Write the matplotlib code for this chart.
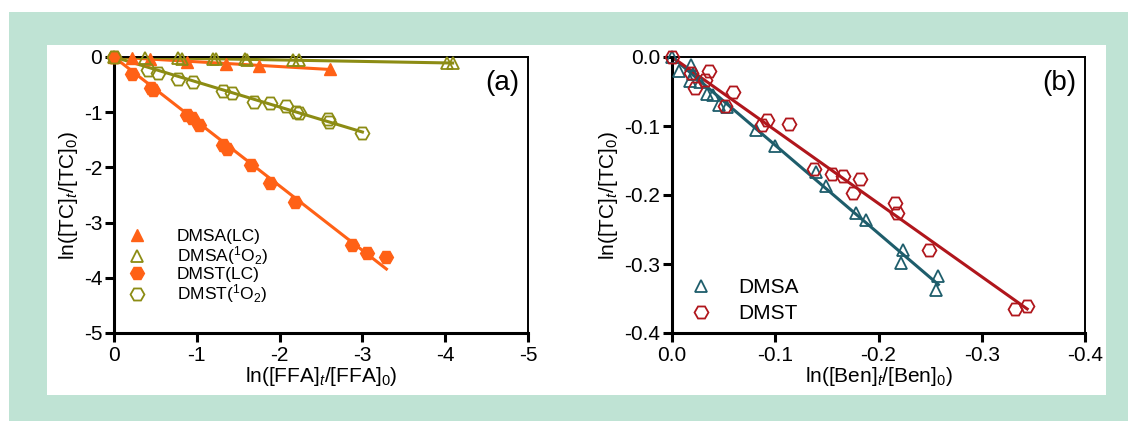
import numpy as np
import matplotlib.pyplot as plt
from matplotlib.patches import Rectangle

plt.rcParams['font.family'] = ['Liberation Sans', 'DejaVu Sans']
plt.rcParams['mathtext.fontset'] = 'custom'
plt.rcParams['mathtext.rm'] = 'Liberation Sans'
plt.rcParams['mathtext.it'] = 'Liberation Sans:italic'
plt.rcParams['axes.unicode_minus'] = False

# ---- panel (a): ln([FFA]t/[FFA]0) vs ln([TC]t/[TC]0)
dmsa_lc_x = [0, -0.22, -0.43, -0.88, -1.35, -1.75, -2.61]
dmsa_lc_y = [0, -0.02, -0.03, -0.09, -0.13, -0.16, -0.21]

dmsa_o2_x = [0, -0.37, -0.77, -0.82, -1.20, -1.23, -1.58, -1.61, -2.16, -2.24, -4.02, -4.09]
dmsa_o2_y = [0, -0.01, -0.02, -0.03, -0.03, -0.04, -0.04, -0.05, -0.06, -0.06, -0.10, -0.11]

dmst_lc_x = [0, -0.22, -0.45, -0.47, -0.88, -0.94, -1.03, -1.32, -1.36, -1.65, -1.88, -2.18, -2.88, -3.06, -3.29]
dmst_lc_y = [0, -0.31, -0.56, -0.60, -1.05, -1.10, -1.23, -1.60, -1.66, -1.96, -2.28, -2.62, -3.41, -3.55, -3.62]

dmst_o2_x = [0, -0.41, -0.53, -0.77, -0.96, -1.32, -1.42, -1.69, -1.89, -2.08, -2.20, -2.24, -2.58, -2.60, -3.00]
dmst_o2_y = [0, -0.24, -0.29, -0.39, -0.46, -0.62, -0.65, -0.81, -0.84, -0.88, -0.99, -1.02, -1.13, -1.17, -1.38]

a_ticks = [0, -1, -2, -3, -4, -5]
a_ticklabels = ['0', '-1', '-2', '-3', '-4', '-5']

# ---- panel (b): ln([Ben]t/[Ben]0) vs ln([TC]t/[TC]0)
b_dmsa_x = [0, -0.007, -0.018, -0.020, -0.017, -0.027, -0.034, -0.040, -0.046, -0.053, -0.081, -0.100,
            -0.139, -0.149, -0.178, -0.188, -0.224, -0.222, -0.258, -0.256]
b_dmsa_y = [0, -0.020, -0.012, -0.024, -0.035, -0.036, -0.053, -0.055, -0.070, -0.072, -0.106, -0.129,
            -0.167, -0.187, -0.226, -0.236, -0.279, -0.299, -0.318, -0.338]

b_dmst_x = [0, -0.018, -0.036, -0.022, -0.032, -0.059, -0.051, -0.087, -0.092, -0.113, -0.138, -0.155,
            -0.166, -0.182, -0.175, -0.216, -0.218, -0.249, -0.332, -0.344]
b_dmst_y = [0, -0.023, -0.020, -0.045, -0.033, -0.050, -0.071, -0.098, -0.092, -0.097, -0.162, -0.169,
            -0.172, -0.177, -0.197, -0.212, -0.226, -0.279, -0.365, -0.361]

b_ticks = [0.0, -0.1, -0.2, -0.3, -0.4]
b_ticklabels = ['0.0', '-0.1', '-0.2', '-0.3', '-0.4']

orange = '#ff6116'
olive = '#8c8c14'
teal = '#1e5d6b'
red = '#b0161c'


def fit_line(ax, x, y, color):
    x = np.asarray(x, float)
    y = np.asarray(y, float)
    k = np.dot(x, y) / np.dot(x, x)
    xx = np.array([0, x.min()])
    ax.plot(xx, k * xx, color=color, lw=2.2, zorder=2)


def style(ax, ticks, labels):
    ax.set_xlim(0, ticks[-1])
    ax.set_ylim(ticks[-1], 0)
    ax.set_xticks(ticks)
    ax.set_xticklabels(labels)
    ax.set_yticks(ticks)
    ax.set_yticklabels(labels)
    for s in ['left', 'bottom']:
        ax.spines[s].set_linewidth(2.2)
    for s in ['top', 'right']:
        ax.spines[s].set_linewidth(1.4)
    ax.tick_params(direction='out', length=6.5, width=2.2, labelsize=15)
    ax.tick_params(axis='x', pad=3)
    ax.tick_params(axis='y', pad=2)


fig = plt.figure(figsize=(11.28, 4.21), dpi=100)
fig.patches.append(Rectangle((9 / 1128, 0), 1, 1 - 12 / 421, transform=fig.transFigure,
                             facecolor='#bfe3d4', edgecolor='none', zorder=-2))
fig.patches.append(Rectangle((47 / 1128, 1 - 395 / 421), (1106 - 47) / 1128, 350 / 421,
                             transform=fig.transFigure, facecolor='white', edgecolor='none', zorder=-1))

ax1 = fig.add_axes([114 / 1128, 1 - 333 / 421, 414 / 1128, 276 / 421])
fit_line(ax1, dmsa_lc_x, dmsa_lc_y, orange)
fit_line(ax1, dmsa_o2_x, dmsa_o2_y, olive)
fit_line(ax1, dmst_lc_x, dmst_lc_y, orange)
fit_line(ax1, dmst_o2_x, dmst_o2_y, olive)
ax1.plot(dmsa_lc_x, dmsa_lc_y, '^', ms=9, color=orange, mec=orange, ls='none', clip_on=False,
         label='DMSA(LC)', zorder=3)
ax1.plot(dmsa_o2_x, dmsa_o2_y, '^', ms=9, mfc='none', mec=olive, mew=1.3, ls='none', clip_on=False,
         label='DMSA($^1$O$_2$)', zorder=3)
ax1.plot(dmst_lc_x, dmst_lc_y, 'H', ms=10, color=orange, mec=orange, ls='none', clip_on=False,
         label='DMST(LC)', zorder=3)
ax1.plot(dmst_o2_x, dmst_o2_y, 'H', ms=10, mfc='none', mec=olive, mew=1.3, ls='none', clip_on=False,
         label='DMST($^1$O$_2$)', zorder=3)
style(ax1, a_ticks, a_ticklabels)
ax1.set_xlabel('ln([FFA]$_t$/[FFA]$_0$)', fontsize=15, labelpad=0)
ax1.set_ylabel('ln([TC]$_t$/[TC]$_0$)', fontsize=15, labelpad=3)
ax1.text(0.937, 0.906, '(a)', transform=ax1.transAxes, fontsize=20, ha='center', va='center')
ax1.legend(loc='lower left', bbox_to_anchor=(0.035, 0.10), frameon=False, fontsize=12.5,
           handlelength=1.0, handletextpad=1.8, labelspacing=0.0, borderpad=0, borderaxespad=0)

ax2 = fig.add_axes([672 / 1128, 1 - 333 / 421, 413 / 1128, 276 / 421])
fit_line(ax2, b_dmsa_x, b_dmsa_y, teal)
fit_line(ax2, b_dmst_x, b_dmst_y, red)
ax2.plot(b_dmsa_x, b_dmsa_y, '^', ms=9, mfc='none', mec=teal, mew=1.3, ls='none', clip_on=False,
         label='DMSA', zorder=3)
ax2.plot(b_dmst_x, b_dmst_y, 'H', ms=10, mfc='none', mec=red, mew=1.3, ls='none', clip_on=False,
         label='DMST', zorder=3)
style(ax2, b_ticks, b_ticklabels)
ax2.set_xlabel('ln([Ben]$_t$/[Ben]$_0$)', fontsize=15, labelpad=0)
ax2.set_ylabel('ln([TC]$_t$/[TC]$_0$)', fontsize=15, labelpad=3)
ax2.text(0.937, 0.906, '(b)', transform=ax2.transAxes, fontsize=20, ha='center', va='center')
ax2.legend(loc='lower left', bbox_to_anchor=(0.045, 0.035), frameon=False, fontsize=15,
           handlelength=1.0, handletextpad=1.3, labelspacing=0.35, borderpad=0, borderaxespad=0)

fig.savefig('out.png', dpi=100)
